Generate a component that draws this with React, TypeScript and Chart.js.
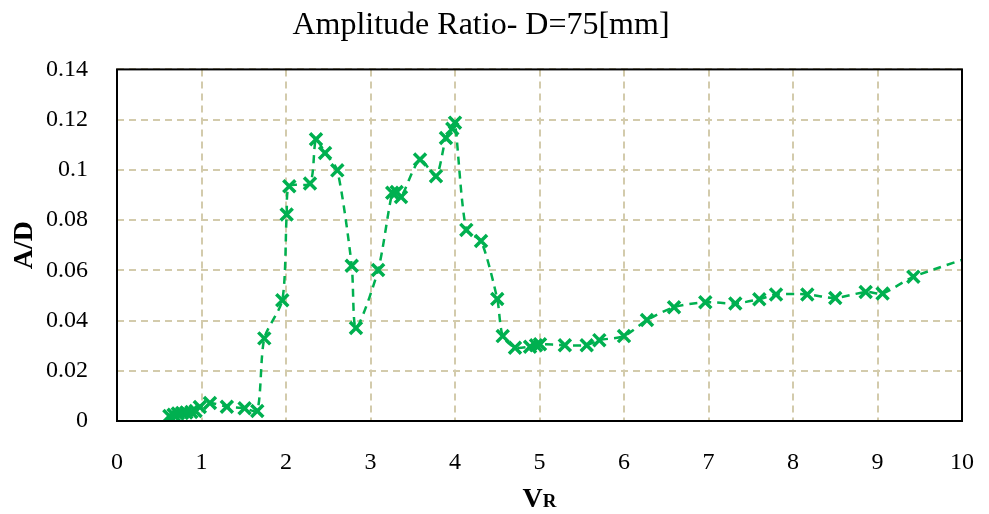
import React, { useEffect, useRef } from "react";
import { Chart, registerables } from "chart.js";

Chart.register(...registerables);

const titleText = "Amplitude Ratio- D=75[mm]";
const xTitleMain = "V";
const xTitleSub = "R";
const yTitle = "A/D";

const vr = [
  0.62, 0.67, 0.72, 0.77, 0.82, 0.88, 0.93, 0.98, 1.1, 1.3, 1.51, 1.66, 1.743, 1.956,
  2.008, 2.039, 2.284, 2.355, 2.462, 2.607, 2.778, 2.828, 3.09, 3.257, 3.31, 3.361,
  3.586, 3.775, 3.893, 3.968, 4.0, 4.134, 4.308, 4.5, 4.565, 4.71, 4.888, 4.959, 5.006,
  5.3, 5.559, 5.708, 6.0, 6.272, 6.592, 6.962, 7.317, 7.601, 7.799, 8.169, 8.5, 8.86,
  9.06, 9.424, 10.4,
];
const ad = [
  0.002, 0.0025, 0.003, 0.0032, 0.0034, 0.0036, 0.004, 0.0056, 0.0072, 0.0057, 0.0051,
  0.004, 0.0329, 0.0481, 0.0822, 0.0935, 0.0946, 0.1122, 0.1067, 0.0998, 0.0618, 0.037,
  0.0601, 0.0909, 0.0912, 0.0892, 0.1041, 0.0975, 0.1127, 0.1164, 0.1188, 0.0761, 0.0717,
  0.0486, 0.0338, 0.0292, 0.0296, 0.0302, 0.0306, 0.0302, 0.0302, 0.0322, 0.0338, 0.0402,
  0.0453, 0.0473, 0.0468, 0.0485, 0.0504, 0.0504, 0.049, 0.0514, 0.0508, 0.0574, 0.0686,
];

const FONT = "'Liberation Serif', 'DejaVu Serif', serif";

const frame = {
  id: "frame",
  afterDraw(chart: any) {
    const { ctx, chartArea: a } = chart;
    ctx.save();
    ctx.strokeStyle = "#000";
    ctx.lineWidth = 2;
    ctx.strokeRect(a.left, a.top, a.right - a.left, a.bottom - a.top);
    // x axis title: V with smaller R
    ctx.fillStyle = "#000";
    ctx.textBaseline = "alphabetic";
    ctx.font = `bold 28px ${FONT}`;
    const w1 = ctx.measureText(xTitleMain).width;
    ctx.font = `bold 19px ${FONT}`;
    const w2 = ctx.measureText(xTitleSub).width;
    const cx = (a.left + a.right) / 2;
    const x0 = cx - (w1 + w2) / 2;
    const base = 507;
    ctx.font = `bold 28px ${FONT}`;
    ctx.fillText(xTitleMain, x0, base);
    ctx.font = `bold 19px ${FONT}`;
    ctx.fillText(xTitleSub, x0 + w1, base);
    ctx.restore();
  },
};

export default function App() {
  const ref = useRef<HTMLCanvasElement | null>(null);
  useEffect(() => {
    document.body.style.margin = "0";
    const chart = new Chart(ref.current!, {
      type: "scatter",
      data: {
        datasets: [
          {
            data: vr.map((x, i) => ({ x, y: ad[i] })),
            showLine: true,
            borderColor: "#00b050",
            backgroundColor: "#00b050",
            borderWidth: 2.5,
            borderDash: [8, 6],
            pointStyle: "crossRot",
            pointRadius: 8.5,
            pointBorderWidth: 3.5,
            tension: 0.25,
          },
        ],
      },
      options: {
        responsive: false,
        animation: false,
        layout: { padding: { left: 0, right: 27, top: 0, bottom: 0 } },
        plugins: {
          legend: { display: false },
          tooltip: { enabled: false },
          title: {
            display: true,
            text: titleText,
            color: "#000",
            font: { family: FONT, size: 32, weight: "normal" },
            padding: { top: 6, bottom: 25 },
          },
        },
        scales: {
          x: {
            type: "linear",
            min: 0,
            max: 10,
            ticks: {
              stepSize: 1,
              color: "#000",
              padding: 27,
              font: { family: FONT, size: 24 },
            },
            grid: { color: "#d3cbac", lineWidth: 2, drawTicks: false },
            border: { display: false, dash: [7, 5] },
            title: { display: false },
            afterFit(s: any) {
              s.height = 93;
              s.paddingLeft = 0;
              s.paddingRight = 0;
            },
          },
          y: {
            min: 0,
            max: 0.14,
            ticks: {
              stepSize: 0.02,
              color: "#000",
              padding: 29,
              font: { family: FONT, size: 24 },
              callback: (v: any) => String(+Number(v).toFixed(2)),
            },
            grid: { color: "#d3cbac", lineWidth: 2, drawTicks: false },
            border: { display: false, dash: [7, 5] },
            title: {
              display: true,
              text: yTitle,
              color: "#000",
              font: { family: FONT, size: 28, weight: "bold" },
              padding: { top: 8, bottom: 0 },
            },
            afterFit(s: any) {
              s.width = 117;
              s.paddingTop = 0;
              s.paddingBottom = 0;
            },
          },
        },
      },
      plugins: [frame],
    });
    return () => chart.destroy();
  }, []);
  return <canvas ref={ref} width={989} height={514} />;
}
